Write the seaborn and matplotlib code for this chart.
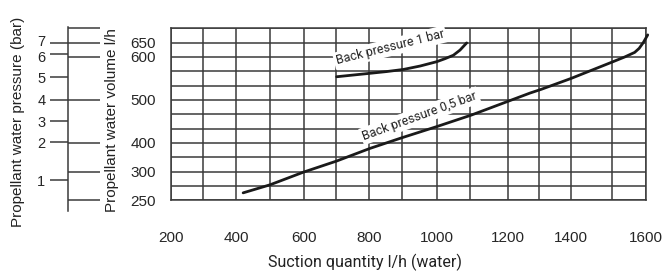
import numpy as np
import pandas as pd
import matplotlib
matplotlib.use("Agg")
import matplotlib.pyplot as plt
import matplotlib.transforms as mtransforms
import seaborn as sns

# curve "Back pressure 0,5 bar"
suction_05 = [421, 500, 597, 702, 802, 900, 1000, 1104, 1271, 1308, 1400, 1498, 1538, 1567, 1580, 1592, 1605]
volume_05 = [263, 277, 299, 337, 381, 412, 438, 465, 516, 525, 550, 587, 600, 616, 630, 650, 677]

# curve "Back pressure 1 bar"
suction_1 = [702, 802, 853, 905, 953, 1000, 1025, 1050, 1070, 1090]
volume_1 = [554, 562, 566, 571, 579, 589, 596, 606, 624, 649]

# axis ticks
x_major = [200, 400, 600, 800, 1000, 1200, 1400, 1600]
x_minor = [300, 500, 700, 900, 1100, 1300, 1500]
volume_ticks = [250, 300, 400, 500, 600, 650, 700]
volume_labels = ["250", "300", "400", "500", "600", "650", ""]
pressure_labels = ["1", "2", "3", "4", "5", "6", "7"]
pressure_volume = [285, 402, 450, 500, 553, 609, 650]

# the printed chart has uneven grids, so the scales are piecewise linear
x_knots = [200, 300, 400, 500, 600, 700, 800, 900, 1000, 1100, 1200, 1300, 1400, 1500, 1600]
x_knot_pos = [171, 202.7, 236, 270, 304.3, 336, 369.3, 401.7, 436.7, 470, 507.7, 539, 571, 611.7, 646]
vol_knots = [250, 300, 400, 500, 600, 650, 700]
vol_rows = [0, 2, 4, 7, 10, 11, 12]


def piecewise(src, dst):
    src = np.asarray(src, float)
    dst = np.asarray(dst, float)

    def f(v):
        v = np.asarray(v, float)
        out = np.interp(v, src, dst)
        lo = dst[0] + (v - src[0]) * (dst[1] - dst[0]) / (src[1] - src[0])
        hi = dst[-1] + (v - src[-1]) * (dst[-1] - dst[-2]) / (src[-1] - src[-2])
        out = np.where(v < src[0], lo, out)
        out = np.where(v > src[-1], hi, out)
        return out
    return f


x_fwd, x_inv = piecewise(x_knots, x_knot_pos), piecewise(x_knot_pos, x_knots)
y_fwd, y_inv = piecewise(vol_knots, vol_rows), piecewise(vol_rows, vol_knots)

sns.set_style("white")
plt.rcParams["font.family"] = ["Liberation Sans", "DejaVu Sans"]

W, H = 665, 272
fig = plt.figure(figsize=(W / 100, H / 100), dpi=100)

line_col = "#3a3a3a"
px = 0.72  # points per pixel at dpi 100

# main chart
ax = fig.add_axes([171 / W, (H - 200.3) / H, 475 / W, 172 / H])
ax.set_xscale("function", functions=(x_fwd, x_inv))
ax.set_yscale("function", functions=(y_fwd, y_inv))

df05 = pd.DataFrame({"suction": suction_05, "volume": volume_05})
df1 = pd.DataFrame({"suction": suction_1, "volume": volume_1})
sns.lineplot(data=df05, x="suction", y="volume", ax=ax, sort=False, estimator=None,
             color="#1a1a1a", linewidth=2.0, clip_on=False, zorder=4,
             solid_capstyle="round", solid_joinstyle="round")
sns.lineplot(data=df1, x="suction", y="volume", ax=ax, sort=False, estimator=None,
             color="#1a1a1a", linewidth=2.0, clip_on=False, zorder=4,
             solid_capstyle="round", solid_joinstyle="round")

ax.set_xlim(200, 1600)
ax.set_ylim(250, 700)
ax.set_xticks(x_major)
ax.set_xticks(x_minor, minor=True)
ax.set_yticks(volume_ticks)
ax.set_yticklabels(volume_labels)
ax.set_yticks(y_inv([1, 3, 5, 6, 8, 9]), minor=True)
ax.tick_params(axis="x", which="both", direction="out", length=12 * px, width=1.1,
               color=line_col, pad=19 * px, labelsize=11)
ax.tick_params(axis="y", which="major", direction="out", length=13 * px, width=1.1,
               color=line_col, pad=2 * px, labelsize=11)
ax.tick_params(axis="y", which="minor", length=0)
ax.grid(which="both", color=line_col, linewidth=1.1)
ax.set_axisbelow(True)
for s in ax.spines.values():
    s.set_visible(True)
    s.set_color(line_col)
    s.set_linewidth(1.1)
ax.set_xlabel("")
ax.set_ylabel("")

ax.text(864, 633, "Back pressure 1 bar", rotation=14, rotation_mode="anchor",
        ha="center", va="center", fontsize=9, family="Roboto", color="#222222",
        bbox=dict(fc="white", ec="none", pad=1.5), zorder=3)
ax.text(952, 463, "Back pressure 0,5 bar", rotation=20, rotation_mode="anchor",
        ha="center", va="center", fontsize=9, family="Roboto", color="#222222",
        bbox=dict(fc="white", ec="none", pad=1.5), zorder=3)

# pressure scale on the left
top_px, bot_px = 26.7, 211
ax2 = fig.add_axes([68.3 / W, (H - bot_px) / H, 31.7 / W, (bot_px - top_px) / H])
ax2.set_yscale("function", functions=(y_fwd, y_inv))
ax2.set_ylim(y_inv((200.3 - bot_px) / 14.33), y_inv((200.3 - top_px) / 14.33))
ax2.yaxis.remove_overlapping_locs = False
ax2.set_yticks(pressure_volume)
ax2.set_yticklabels(pressure_labels)
ax2.set_yticks(volume_ticks, minor=True)
ax2.tick_params(axis="y", which="major", left=True, right=False, direction="out",
                length=18 * px, width=1.1, color=line_col, pad=5 * px, labelsize=10.5)
ax2.tick_params(axis="y", which="minor", left=False, right=True, direction="in",
                length=31.7 * px, width=1.1, color=line_col)
ax2.set_xticks([])
for name, s in ax2.spines.items():
    s.set_visible(name == "left")
s = ax2.spines["left"]
s.set_color(line_col)
s.set_linewidth(1.1)
ax2.patch.set_alpha(0)

# "7" and "6" sit very close, nudge them apart a little
nudge = {"7": 2.5, "6": -2.5}
for lab in ax2.get_yticklabels():
    if lab.get_text() in nudge:
        off = mtransforms.ScaledTranslation(0, nudge[lab.get_text()] / 100, fig.dpi_scale_trans)
        lab.set_transform(lab.get_transform() + off)

# axis titles
fig.text(365 / W, 1 - 262 / H, "Suction quantity l/h (water)", ha="center", va="center",
         fontsize=11.5, family="Roboto", color="#222222")
fig.text(111.7 / W, 1 - 120 / H, "Propellant water volume l/h", rotation=90,
         ha="center", va="center", fontsize=11, color="#222222")
fig.text(18 / W, 1 - 122 / H, "Propellant water pressure (bar)", rotation=90,
         ha="center", va="center", fontsize=11, color="#222222")

fig.savefig("out.png", dpi=100)
